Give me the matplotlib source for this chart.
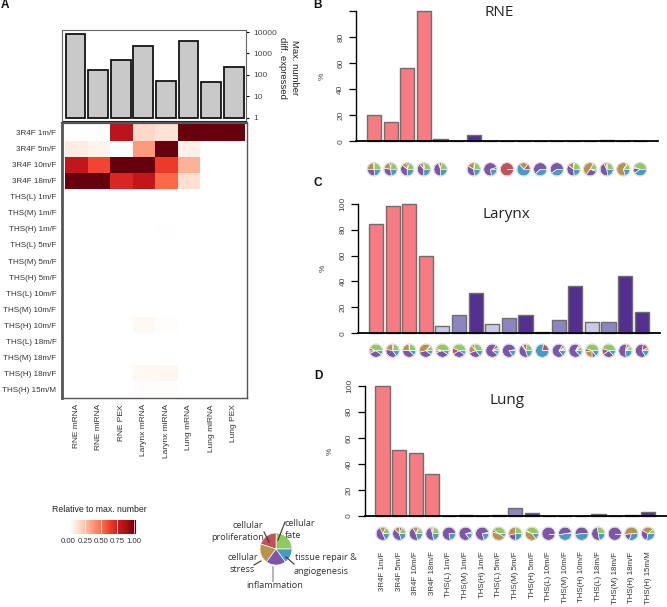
import numpy as np
import matplotlib
matplotlib.use('Agg')
import matplotlib.pyplot as plt
from matplotlib.colors import LinearSegmentedColormap
from matplotlib.lines import Line2D
from matplotlib.patches import Circle

W, H = 667, 607
plt.rcParams['font.family'] = ['Liberation Sans', 'DejaVu Sans']

# 데이터
conditions = ['3R4F 1m/F', '3R4F 5m/F', '3R4F 10m/F', '3R4F 18m/F',
              'THS(L) 1m/F', 'THS(M) 1m/F', 'THS(H) 1m/F',
              'THS(L) 5m/F', 'THS(M) 5m/F', 'THS(H) 5m/F',
              'THS(L) 10m/F', 'THS(M) 10m/F', 'THS(H) 10m/F',
              'THS(L) 18m/F', 'THS(M) 18m/F', 'THS(H) 18m/F', 'THS(H) 15m/M']
datasets = ['RNE mRNA', 'RNE miRNA', 'RNE PEX', 'Larynx mRNA',
            'Larynx miRNA', 'Lung mRNA', 'Lung miRNA', 'Lung PEX']
max_number = [8500, 170, 500, 2200, 52, 3800, 47, 235]

heat = [[0, 0, 0.8, 0.15, 0.12, 1, 1, 1],
        [0.08, 0.05, 0, 0.35, 1, 0.06, 0, 0],
        [0.78, 0.6, 1, 1, 0.63, 0.28, 0, 0],
        [1, 1, 0.7, 0.78, 0.5, 0.13, 0, 0],
        [0, 0, 0, 0, 0, 0, 0, 0],
        [0, 0, 0, 0, 0, 0, 0, 0],
        [0, 0, 0, 0, 0.005, 0, 0, 0],
        [0, 0, 0, 0, 0, 0, 0, 0],
        [0, 0, 0, 0, 0, 0, 0, 0],
        [0, 0, 0, 0, 0, 0, 0, 0],
        [0, 0, 0, 0, 0, 0, 0, 0],
        [0, 0, 0, 0, 0, 0, 0, 0],
        [0, 0, 0, 0.03, 0.01, 0, 0, 0],
        [0, 0, 0, 0, 0, 0, 0, 0],
        [0, 0, 0, 0, 0, 0, 0, 0],
        [0, 0, 0.002, 0.03, 0.04, 0, 0, 0],
        [0, 0, 0, 0.012, 0.01, 0, 0, 0]]

rne_pct = [20.5, 15, 56, 100, 2, 0, 5, 0, 0, 0, 0, 0, 0.5, 0, 1.3, 0, 0.5]
larynx_pct = [84, 98, 100, 59.5, 5.5, 14, 31, 7.5, 11.5, 14, 1, 10.5, 36.5, 9, 8.5, 44, 16.5]
lung_pct = [100, 51, 48, 32, 0.3, 0.7, 0.2, 1, 6.5, 2.5, 0.1, 0.3, 0.1, 1.2, 0.1, 0.5, 2.7]

# 파이 비율 순서: fate, proliferation, stress, inflammation, tissue repair
rne_pies = [[24, 3, 23, 27, 23], [24, 4, 20, 29, 23], [20, 6, 13, 36, 25], [22, 5, 10, 38, 25],
            [23, 5, 3, 44, 25], None, [22, 2, 18, 35, 23], [0, 5, 0, 73, 22],
            [0, 100, 0, 0, 0], [0, 14, 22, 0, 64], [0, 0, 0, 62, 38], [0, 0, 0, 60, 40],
            [23, 2, 15, 37, 23], [17, 0, 48, 30, 5], [22, 3, 8, 45, 22], [14, 2, 64, 0, 20],
            [45, 2, 0, 13, 40]]
larynx_pies = [[44, 7, 6, 33, 10], [22, 3, 22, 38, 15], [24, 2, 24, 38, 12], [12, 2, 40, 36, 10],
               [45, 5, 5, 35, 10], [44, 15, 0, 31, 10], [30, 6, 20, 30, 14], [8, 8, 0, 74, 10],
               [0, 3, 0, 82, 15], [22, 10, 3, 45, 20], [0, 22, 0, 0, 78], [5, 3, 8, 70, 14],
               [10, 2, 5, 70, 13], [45, 8, 22, 10, 15], [45, 15, 0, 28, 12], [10, 4, 8, 55, 23],
               [8, 14, 0, 62, 16]]
lung_pies = [[18, 0, 14, 50, 18], [18, 6, 14, 42, 20], [15, 4, 14, 47, 20], [22, 4, 4, 48, 22],
             [0, 0, 0, 78, 22], [0, 5, 0, 80, 15], [0, 4, 0, 76, 20], [40, 6, 46, 0, 8],
             [24, 0, 30, 22, 24], [42, 2, 42, 0, 14], [0, 0, 0, 100, 0], [0, 3, 0, 50, 47],
             [0, 0, 0, 52, 48], [28, 0, 0, 50, 22], [0, 0, 0, 100, 0], [0, 0, 52, 18, 30],
             [12, 0, 30, 30, 28]]
legend_pie = [25, 20, 20, 20, 15]

pie_colors = ['#92c85f', '#c0525c', '#b8934b', '#7d55a9', '#479cc4']
dose_colors = ['#f67b83'] * 4 + ['#c9c9e6', '#8d85c0', '#53308f'] * 4 + ['#53308f']
heat_cmap = LinearSegmentedColormap.from_list(
    'white_reds', ['#ffffff', '#fee0d2', '#fcbba1', '#fc9272', '#fb6a4a', '#ef3b2c', '#cb181d', '#a50f15', '#67000d'])

fig = plt.figure(figsize=(W / 100, H / 100), dpi=100)


def px_axes(x0, y0, x1, y1):
    # 픽셀 좌표(위쪽 원점)로 axes 생성
    return fig.add_axes([x0 / W, 1 - y1 / H, (x1 - x0) / W, (y1 - y0) / H])


def px_text(x, y, s, **kw):
    kw.setdefault('va', 'center')
    kw.setdefault('ha', 'center')
    kw.setdefault('color', '#222222')
    fig.text(x / W, 1 - y / H, s, **kw)


def px_line(x0, y0, x1, y1, color='#333333', lw=0.8):
    fig.add_artist(Line2D([x0 / W, x1 / W], [1 - y0 / H, 1 - y1 / H], color=color, lw=lw))


def draw_pie(cx, cy, r, shares, outline=True):
    ax = px_axes(cx - r - 1.5, cy - r - 1.5, cx + r + 1.5, cy + r + 1.5)
    lim = (r + 1.5) / r
    vals = [v for v in shares if v > 0]
    cols = [c for v, c in zip(shares, pie_colors) if v > 0]
    ax.pie(vals, colors=cols, startangle=0, counterclock=True, radius=1, frame=True,
           wedgeprops={'edgecolor': 'white', 'linewidth': 0.45})
    if len(vals) == 1:
        ax.plot([0, 1], [0, 0], color='white', lw=0.6)
    if outline:
        ax.add_patch(Circle((0, 0), 1.03, fill=False, edgecolor='#d8d8d8', linewidth=0.7))
    ax.set_xlim(-lim, lim)
    ax.set_ylim(-lim, lim)
    ax.axis('off')


def bar_panel(pct, pies, title, title_xy, axis_x, right, y100, y0, first_c, last_c,
              pie_y, pie_first, pie_last, pct_x, show_100=True):
    ax = px_axes(axis_x, y100, right, y0)
    step = (last_c - first_c) / 16
    ax.set_xlim((axis_x - first_c) / step, (right - first_c) / step)
    ax.set_ylim(0, 100)
    ax.bar(range(17), pct, width=0.85, color=dose_colors, edgecolor='#6e6e6e', linewidth=1.0, clip_on=False)
    for s in ['top', 'right']:
        ax.spines[s].set_visible(False)
    ax.spines['left'].set_linewidth(1.0)
    ax.spines['bottom'].set_linewidth(1.3)
    ax.set_xticks([])
    ax.set_yticks(range(0, 101, 20))
    labels = [str(v) for v in range(0, 101, 20)]
    if not show_100:
        labels[-1] = ''
    ax.set_yticklabels(labels, rotation=90, va='center', fontsize=6.0, color='#444444')
    ax.tick_params(axis='y', length=5, width=0.9, pad=3.5)
    px_text(pct_x, (y100 + y0) / 2, '%', rotation=90, fontsize=6.0, color='#444444')
    px_text(title_xy[0], title_xy[1], title, fontsize=11, family=['Open Sans', 'DejaVu Sans'])
    xs = np.linspace(pie_first, pie_last, 17)
    for x, shares in zip(xs, pies):
        if shares is not None:
            draw_pie(x, pie_y, 6.6, shares)


# A 상단 막대 (로그축)
ax_top = px_axes(62.5, 30, 246, 121)
ax_top.set_yscale('log')
ax_top.set_ylim(0.72, 12400)
ax_top.set_xlim((62.5 - 75.5) / 22.6, (246 - 75.5) / 22.6)
ax_top.bar(range(8), np.array(max_number) - 1, bottom=1, width=0.87,
           color='#c9c9c9', edgecolor='#141414', linewidth=1.3)
ax_top.yaxis.tick_right()
ax_top.set_yticks([1, 10, 100, 1000, 10000])
ax_top.set_yticklabels(['1', '10', '100', '1000', '10000'], fontsize=6.0, color='#444444')
ax_top.minorticks_off()
ax_top.tick_params(axis='y', length=2.5, width=0.8, pad=3)
ax_top.set_xticks([])
for s in ax_top.spines.values():
    s.set_color('#666666')
    s.set_linewidth(0.8)
ax_top.spines['bottom'].set_color('#222222')
px_text(295, 68, 'Max. number', rotation=270, fontsize=6.8)
px_text(283, 68, 'diff. expressed', rotation=270, fontsize=6.8)

# A 히트맵
ax_heat = px_axes(62, 122.5, 247, 398)
ax_heat.pcolormesh(np.arange(9), np.arange(18), np.array(heat), cmap=heat_cmap, vmin=0, vmax=1)
ax_heat.set_xlim((62 - 65) / 22.5, (247 - 65) / 22.5)
ax_heat.set_ylim(17 + 0.03, -(124.5 - 122.5) / 16.06)
ax_heat.set_yticks(np.arange(17) + 0.5)
ax_heat.set_yticklabels(conditions, fontsize=5.75, color='#333333')
ax_heat.set_xticks(np.arange(8) + 0.5)
ax_heat.set_xticklabels(datasets, rotation=90, fontsize=6.0, color='#333333')
ax_heat.tick_params(length=0)
ax_heat.tick_params(axis='y', pad=4)
ax_heat.tick_params(axis='x', pad=4.5)
for name, lw in [('left', 2.0), ('top', 1.6), ('right', 1.0), ('bottom', 1.0)]:
    ax_heat.spines[name].set_color('#555555')
    ax_heat.spines[name].set_linewidth(lw)

# 컬러바
ax_cb = px_axes(68.5, 520, 135.5, 534)
grad = np.linspace(0, 1, 41).reshape(1, -1)
ax_cb.imshow(grad, aspect='auto', cmap=heat_cmap, vmin=0, vmax=1, extent=[0, 1.03, 0, 1])
for v in [0.25, 0.5, 0.75, 1.0]:
    ax_cb.plot([v, v], [0, 1], color='white', lw=0.5)
ax_cb.set_xlim(0, 1.03)
ax_cb.set_ylim(0, 1)
ax_cb.axis('off')
px_text(99, 510, 'Relative to max. number', fontsize=6.3, color='#222222')
for v, lab in zip([0, 0.25, 0.5, 0.75, 1.0], ['0.00', '0.25', '0.50', '0.75', '1.00']):
    px_text(68.5 + v * 65, 541.5, lab, fontsize=5.6, color='#333333')

# 파이 범례
draw_pie(276, 549, 16, legend_pie, outline=False)
lf = {'family': ['Open Sans', 'DejaVu Sans'], 'fontsize': 6.6, 'color': '#333333'}
px_text(248, 526, 'cellular', **lf)
px_text(238, 538, 'proliferation', **lf)
px_text(300, 524, 'cellular', **lf)
px_text(293, 536, 'fate', **lf)
px_text(243, 558, 'cellular', **lf)
px_text(242, 570, 'stress', **lf)
px_text(295, 558, 'tissue repair &', ha='left', **lf)
px_text(294, 571, 'angiogenesis', ha='left', **lf)
px_text(275, 585, 'inflammation', **lf)
px_line(264, 532, 269, 542)
px_line(285, 522, 278, 540)
px_line(254, 565, 261, 561)
px_line(286, 557, 294, 564)
px_line(273, 567, 273, 581, color='#aaaaaa', lw=1.2)

# B, C, D
bar_panel(rne_pct, rne_pies, 'RNE', (499, 12), 356, 658, 11.3, 141.3, 374, 640,
          169.3, 374, 640, 322, show_100=False)
bar_panel(larynx_pct, larynx_pies, 'Larynx', (506, 214), 358.3, 660, 203.7, 333.3, 376, 641.7,
          350.7, 376, 642, 323)
bar_panel(lung_pct, lung_pies, 'Lung', (507, 400), 364.7, 666.7, 385.7, 516, 382.5, 648.3,
          533.7, 382.7, 648, 330)

xs = np.linspace(382.5, 648.3, 17)
for x, lab in zip(xs, conditions):
    px_text(x, 551.5, lab, rotation=90, va='top', fontsize=5.65, color='#333333')

for lab, x, y in [('A', 5, 5), ('B', 318, 5), ('C', 318, 183), ('D', 318, 376)]:
    px_text(x, y, lab, fontsize=8.5, fontweight='bold', color='#111111')

fig.savefig('out.png', dpi=100)
